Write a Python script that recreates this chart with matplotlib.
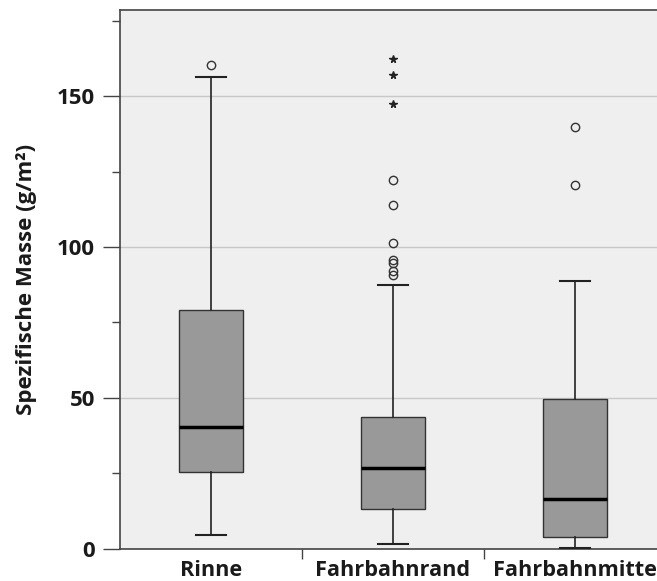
import matplotlib.pyplot as plt
from matplotlib.ticker import MultipleLocator

# values (g/m²)
categories = ['Rinne', 'Fahrbahnrand', 'Fahrbahnmitte']
whislo = [4.7, 1.4, 0.2]
q1 = [25.3, 13.3, 3.8]
med = [40.4, 26.9, 16.5]
q3 = [79.1, 43.5, 49.7]
whishi = [156.3, 87.5, 88.6]
outliers = [[160.2], [122.4, 114.0, 101.3, 95.8, 94.7, 92.1, 90.7], [139.7, 120.5]]
extremes = [[], [162.4, 157.0, 147.6], []]

plt.rcParams['font.family'] = ['Open Sans', 'DejaVu Sans']

W, H = 657, 581
fig = plt.figure(figsize=(W / 100, H / 100), dpi=100)
ax = fig.add_axes([120 / W, (H - 548.7) / H, (W - 120) / W, (548.7 - 10) / H])
ax.set_facecolor('#efefef')

stats = []
for i in range(len(categories)):
    stats.append(dict(label=categories[i], whislo=whislo[i], q1=q1[i], med=med[i],
                      q3=q3[i], whishi=whishi[i], fliers=[]))

ax.bxp(stats, positions=range(len(categories)), widths=0.35, showfliers=False,
       patch_artist=True,
       boxprops=dict(facecolor='#999999', edgecolor='#333333', lw=1),
       medianprops=dict(color='black', lw=2.5, solid_capstyle='butt'),
       whiskerprops=dict(color='#222222', lw=1.2),
       capprops=dict(color='#222222', lw=1.5), capwidths=0.17,
       zorder=3)

for i in range(len(categories)):
    ax.plot([i] * len(outliers[i]), outliers[i], 'o', ms=6, mfc='none',
            mec='#333333', mew=1, zorder=4)
    ax.plot([i] * len(extremes[i]), extremes[i], '*', ms=5.5, color='#222222',
            zorder=4)

ax.set_xlim(-0.5, 2.5 - 9 / 182)
ax.set_ylim(0, 178.6)

ax.yaxis.set_major_locator(MultipleLocator(50))
ax.yaxis.set_minor_locator(MultipleLocator(25))
ax.yaxis.grid(True, which='major', color='#c8c8c8', lw=1)
ax.set_axisbelow(True)
ax.tick_params(axis='y', which='major', length=12, width=1, color='#444444',
               pad=6, labelsize=16, labelcolor='#1a1a1a')
ax.tick_params(axis='y', which='minor', length=6, width=1, color='#444444')
for t in ax.get_yticklabels():
    t.set_fontweight('bold')

ax.set_xticks(range(len(categories)))
ax.set_xticklabels(categories, fontsize=15.6, fontweight='bold', color='#1a1a1a')
ax.set_xticks([0.5, 1.5], minor=True)
ax.tick_params(axis='x', which='major', length=0, pad=8)
ax.tick_params(axis='x', which='minor', length=7, width=1, color='#444444')

ax.set_ylabel('Spezifische Masse (g/m²)', fontsize=16, fontweight='bold',
              color='#1a1a1a', labelpad=14)

for s in ['left', 'bottom', 'top']:
    ax.spines[s].set_color('#444444')
    ax.spines[s].set_linewidth(1.2)
ax.spines['right'].set_visible(False)

fig.savefig('out.png', dpi=100)
